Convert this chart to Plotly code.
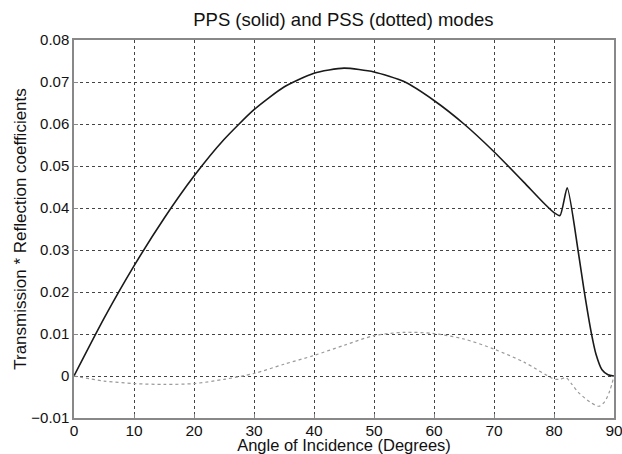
import plotly.graph_objects as go

# Solid curve (PPS)
pps_angle = [0, 5, 10, 15, 20, 25, 30, 35, 40, 45, 50, 55, 60, 65, 70, 75, 78, 80, 81, 82.2, 84, 85, 86.2, 87, 88, 89, 90]
pps_value = [0, 0.0137, 0.0262, 0.0375, 0.0476, 0.0563, 0.0634, 0.0688, 0.0721, 0.0733, 0.0724, 0.0701, 0.0656, 0.0600, 0.0534, 0.0461, 0.0416, 0.0389, 0.0382, 0.0448, 0.0300, 0.0205, 0.0104, 0.0052, 0.0015, 0.0003, 0]

# Dotted curve (PSS)
pss_angle = [0, 5, 10, 15, 20, 25, 30, 35, 40, 45, 50, 55, 60, 65, 70, 75, 80, 81, 82, 83, 84, 86, 87.5, 88.5, 89.3, 90]
pss_value = [0, -0.0012, -0.0018, -0.0020, -0.0018, -0.0008, 0.0006, 0.0028, 0.0049, 0.0073, 0.0096, 0.0104, 0.0101, 0.0088, 0.0064, 0.0033, -0.0007, -0.0008, -0.0004, -0.0020, -0.0038, -0.0062, -0.0072, -0.0060, -0.0035, 0]

x_ticks = [0, 10, 20, 30, 40, 50, 60, 70, 80, 90]
y_ticks = [-0.01, 0, 0.01, 0.02, 0.03, 0.04, 0.05, 0.06, 0.07, 0.08]
y_labels = ["\u22120.01", "0", "0.01", "0.02", "0.03", "0.04", "0.05", "0.06", "0.07", "0.08"]

fig = go.Figure()
fig.add_trace(go.Scatter(x=pps_angle, y=pps_value, mode="lines",
                         line=dict(color="#1a1a1a", width=1.6, shape="spline", smoothing=0.6),
                         showlegend=False))
fig.add_trace(go.Scatter(x=pss_angle, y=pss_value, mode="lines",
                         line=dict(color="#9a9a9a", width=1.2, dash="dot", shape="spline", smoothing=0.8),
                         showlegend=False))

font_family = "Liberation Sans, Arial, sans-serif"
fig.update_layout(
    width=622, height=454,
    margin=dict(l=74, r=8, t=40, b=36),
    paper_bgcolor="white", plot_bgcolor="white",
    font=dict(family=font_family, color="#111111"),
    title=dict(text="PPS (solid) and PSS (dotted) modes", x=0.552, xanchor="center",
               y=0.956, yanchor="middle", font=dict(size=18.5, color="#111111")),
)
fig.update_xaxes(
    range=[0, 90], tickvals=x_ticks, ticklabeloverflow="allow", ticklabelstandoff=-2,
    tickfont=dict(size=15.5, color="#111111"), showgrid=True, gridcolor="#444444", griddash="dot", gridwidth=1,
    showline=True, linecolor="#888888", linewidth=1.5, mirror=True, automargin=False,
    ticks="inside", ticklen=4, tickcolor="#888888", zeroline=False,
    title=dict(text="Angle of Incidence (Degrees)", font=dict(size=16.5, color="#111111"), standoff=1),
)
fig.update_yaxes(
    range=[-0.01, 0.08], tickvals=y_ticks, ticktext=y_labels,
    tickfont=dict(size=15, color="#111111"), showgrid=True, gridcolor="#444444", griddash="dot", gridwidth=1,
    showline=True, linecolor="#888888", linewidth=1.5, mirror=True, automargin=False,
    ticks="inside", ticklen=4, tickcolor="#888888", zeroline=False,
    title=dict(text="Transmission * Reflection coefficients", font=dict(size=17, color="#111111"), standoff=0),
)
# Remove the default 8px page margin so the 622x454 figure fills the window exactly.
fig.write_html("out.html", config={"displayModeBar": False},
               post_script="document.body.style.margin='0';document.body.style.overflow='hidden';")
